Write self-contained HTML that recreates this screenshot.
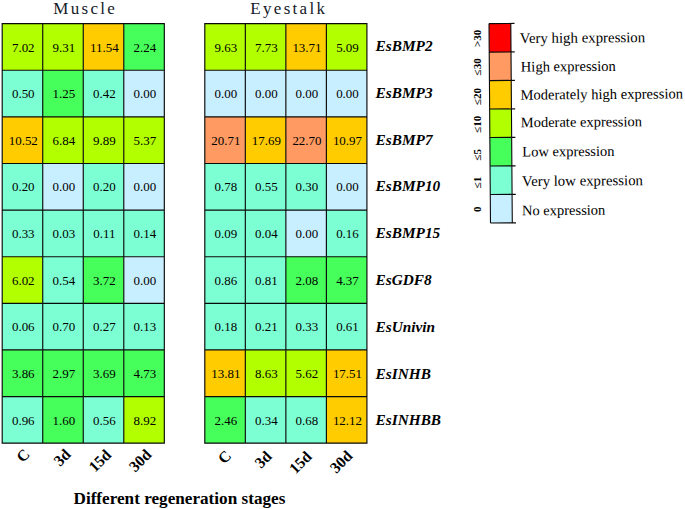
<!DOCTYPE html><html><head><meta charset="utf-8"><title>Heatmap</title>
<style>html,body{margin:0;padding:0;background:#fff;}svg{display:block;}text{font-family:"Liberation Serif",serif;fill:#000;}.c{font-size:12.95px;text-anchor:middle;}.t{font-size:17px;text-anchor:middle;fill:#141a28;letter-spacing:2.3px;}.g{font-size:15.3px;font-weight:bold;font-style:italic;}.x{font-size:15.6px;font-weight:bold;text-anchor:end;}.b{font-size:17.16px;font-weight:bold;}.l{font-size:14.65px;}.r{font-size:10.3px;font-weight:bold;text-anchor:middle;}</style></head><body>
<svg width="685" height="509" viewBox="0 0 685 509">
<rect width="685" height="509" fill="#fff"/>
<rect x="2.2" y="23.6" width="40.53" height="46.62" fill="#b2ff00"/>
<rect x="42.73" y="23.6" width="40.53" height="46.62" fill="#b2ff00"/>
<rect x="83.26" y="23.6" width="40.53" height="46.62" fill="#ffcc00"/>
<rect x="123.79" y="23.6" width="40.53" height="46.62" fill="#46ff5a"/>
<rect x="2.2" y="70.22" width="40.53" height="46.62" fill="#7dffd4"/>
<rect x="42.73" y="70.22" width="40.53" height="46.62" fill="#46ff5a"/>
<rect x="83.26" y="70.22" width="40.53" height="46.62" fill="#7dffd4"/>
<rect x="123.79" y="70.22" width="40.53" height="46.62" fill="#c8efff"/>
<rect x="2.2" y="116.84" width="40.53" height="46.62" fill="#ffcc00"/>
<rect x="42.73" y="116.84" width="40.53" height="46.62" fill="#b2ff00"/>
<rect x="83.26" y="116.84" width="40.53" height="46.62" fill="#b2ff00"/>
<rect x="123.79" y="116.84" width="40.53" height="46.62" fill="#b2ff00"/>
<rect x="2.2" y="163.46" width="40.53" height="46.62" fill="#7dffd4"/>
<rect x="42.73" y="163.46" width="40.53" height="46.62" fill="#c8efff"/>
<rect x="83.26" y="163.46" width="40.53" height="46.62" fill="#7dffd4"/>
<rect x="123.79" y="163.46" width="40.53" height="46.62" fill="#c8efff"/>
<rect x="2.2" y="210.08" width="40.53" height="46.62" fill="#7dffd4"/>
<rect x="42.73" y="210.08" width="40.53" height="46.62" fill="#7dffd4"/>
<rect x="83.26" y="210.08" width="40.53" height="46.62" fill="#7dffd4"/>
<rect x="123.79" y="210.08" width="40.53" height="46.62" fill="#7dffd4"/>
<rect x="2.2" y="256.7" width="40.53" height="46.62" fill="#b2ff00"/>
<rect x="42.73" y="256.7" width="40.53" height="46.62" fill="#7dffd4"/>
<rect x="83.26" y="256.7" width="40.53" height="46.62" fill="#46ff5a"/>
<rect x="123.79" y="256.7" width="40.53" height="46.62" fill="#c8efff"/>
<rect x="2.2" y="303.32" width="40.53" height="46.62" fill="#7dffd4"/>
<rect x="42.73" y="303.32" width="40.53" height="46.62" fill="#7dffd4"/>
<rect x="83.26" y="303.32" width="40.53" height="46.62" fill="#7dffd4"/>
<rect x="123.79" y="303.32" width="40.53" height="46.62" fill="#7dffd4"/>
<rect x="2.2" y="349.94" width="40.53" height="46.62" fill="#46ff5a"/>
<rect x="42.73" y="349.94" width="40.53" height="46.62" fill="#46ff5a"/>
<rect x="83.26" y="349.94" width="40.53" height="46.62" fill="#46ff5a"/>
<rect x="123.79" y="349.94" width="40.53" height="46.62" fill="#46ff5a"/>
<rect x="2.2" y="396.56" width="40.53" height="46.62" fill="#7dffd4"/>
<rect x="42.73" y="396.56" width="40.53" height="46.62" fill="#46ff5a"/>
<rect x="83.26" y="396.56" width="40.53" height="46.62" fill="#7dffd4"/>
<rect x="123.79" y="396.56" width="40.53" height="46.62" fill="#b2ff00"/>
<path d="M2.2 23.6V443.18M42.73 23.6V443.18M83.26 23.6V443.18M123.79 23.6V443.18M164.32 23.6V443.18M2.2 23.6H164.32M2.2 70.22H164.32M2.2 116.84H164.32M2.2 163.46H164.32M2.2 210.08H164.32M2.2 256.7H164.32M2.2 303.32H164.32M2.2 349.94H164.32M2.2 396.56H164.32M2.2 443.18H164.32" stroke="#0a0a0a" stroke-width="1.15" fill="none" stroke-linecap="square"/>
<text class="c" x="23.27" y="51.61">7.02</text>
<text class="c" x="63.8" y="51.61">9.31</text>
<text class="c" x="104.33" y="51.61">11.54</text>
<text class="c" x="144.86" y="51.61">2.24</text>
<text class="c" x="23.27" y="98.23">0.50</text>
<text class="c" x="63.8" y="98.23">1.25</text>
<text class="c" x="104.33" y="98.23">0.42</text>
<text class="c" x="144.86" y="98.23">0.00</text>
<text class="c" x="23.27" y="144.85">10.52</text>
<text class="c" x="63.8" y="144.85">6.84</text>
<text class="c" x="104.33" y="144.85">9.89</text>
<text class="c" x="144.86" y="144.85">5.37</text>
<text class="c" x="23.27" y="191.47">0.20</text>
<text class="c" x="63.8" y="191.47">0.00</text>
<text class="c" x="104.33" y="191.47">0.20</text>
<text class="c" x="144.86" y="191.47">0.00</text>
<text class="c" x="23.27" y="238.09">0.33</text>
<text class="c" x="63.8" y="238.09">0.03</text>
<text class="c" x="104.33" y="238.09">0.11</text>
<text class="c" x="144.86" y="238.09">0.14</text>
<text class="c" x="23.27" y="284.71">6.02</text>
<text class="c" x="63.8" y="284.71">0.54</text>
<text class="c" x="104.33" y="284.71">3.72</text>
<text class="c" x="144.86" y="284.71">0.00</text>
<text class="c" x="23.27" y="331.33">0.06</text>
<text class="c" x="63.8" y="331.33">0.70</text>
<text class="c" x="104.33" y="331.33">0.27</text>
<text class="c" x="144.86" y="331.33">0.13</text>
<text class="c" x="23.27" y="377.95">3.86</text>
<text class="c" x="63.8" y="377.95">2.97</text>
<text class="c" x="104.33" y="377.95">3.69</text>
<text class="c" x="144.86" y="377.95">4.73</text>
<text class="c" x="23.27" y="424.57">0.96</text>
<text class="c" x="63.8" y="424.57">1.60</text>
<text class="c" x="104.33" y="424.57">0.56</text>
<text class="c" x="144.86" y="424.57">8.92</text>
<text class="x" transform="translate(24.35 449) rotate(-45)" x="0" y="0" dy="9">C</text>
<text class="x" transform="translate(65.2 448.9) rotate(-45)" x="0" y="0" dy="9">3d</text>
<text class="x" transform="translate(105.7 449.4) rotate(-45)" x="0" y="0" dy="9">15d</text>
<text class="x" transform="translate(145.95 449.2) rotate(-45)" x="0" y="0" dy="9">30d</text>
<rect x="204.8" y="23.6" width="40.53" height="46.62" fill="#b2ff00"/>
<rect x="245.33" y="23.6" width="40.53" height="46.62" fill="#b2ff00"/>
<rect x="285.86" y="23.6" width="40.53" height="46.62" fill="#ffcc00"/>
<rect x="326.39" y="23.6" width="40.53" height="46.62" fill="#b2ff00"/>
<rect x="204.8" y="70.22" width="40.53" height="46.62" fill="#c8efff"/>
<rect x="245.33" y="70.22" width="40.53" height="46.62" fill="#c8efff"/>
<rect x="285.86" y="70.22" width="40.53" height="46.62" fill="#c8efff"/>
<rect x="326.39" y="70.22" width="40.53" height="46.62" fill="#c8efff"/>
<rect x="204.8" y="116.84" width="40.53" height="46.62" fill="#ff9a62"/>
<rect x="245.33" y="116.84" width="40.53" height="46.62" fill="#ffcc00"/>
<rect x="285.86" y="116.84" width="40.53" height="46.62" fill="#ff9a62"/>
<rect x="326.39" y="116.84" width="40.53" height="46.62" fill="#ffcc00"/>
<rect x="204.8" y="163.46" width="40.53" height="46.62" fill="#7dffd4"/>
<rect x="245.33" y="163.46" width="40.53" height="46.62" fill="#7dffd4"/>
<rect x="285.86" y="163.46" width="40.53" height="46.62" fill="#7dffd4"/>
<rect x="326.39" y="163.46" width="40.53" height="46.62" fill="#c8efff"/>
<rect x="204.8" y="210.08" width="40.53" height="46.62" fill="#7dffd4"/>
<rect x="245.33" y="210.08" width="40.53" height="46.62" fill="#7dffd4"/>
<rect x="285.86" y="210.08" width="40.53" height="46.62" fill="#c8efff"/>
<rect x="326.39" y="210.08" width="40.53" height="46.62" fill="#7dffd4"/>
<rect x="204.8" y="256.7" width="40.53" height="46.62" fill="#7dffd4"/>
<rect x="245.33" y="256.7" width="40.53" height="46.62" fill="#7dffd4"/>
<rect x="285.86" y="256.7" width="40.53" height="46.62" fill="#46ff5a"/>
<rect x="326.39" y="256.7" width="40.53" height="46.62" fill="#46ff5a"/>
<rect x="204.8" y="303.32" width="40.53" height="46.62" fill="#7dffd4"/>
<rect x="245.33" y="303.32" width="40.53" height="46.62" fill="#7dffd4"/>
<rect x="285.86" y="303.32" width="40.53" height="46.62" fill="#7dffd4"/>
<rect x="326.39" y="303.32" width="40.53" height="46.62" fill="#7dffd4"/>
<rect x="204.8" y="349.94" width="40.53" height="46.62" fill="#ffcc00"/>
<rect x="245.33" y="349.94" width="40.53" height="46.62" fill="#b2ff00"/>
<rect x="285.86" y="349.94" width="40.53" height="46.62" fill="#b2ff00"/>
<rect x="326.39" y="349.94" width="40.53" height="46.62" fill="#ffcc00"/>
<rect x="204.8" y="396.56" width="40.53" height="46.62" fill="#46ff5a"/>
<rect x="245.33" y="396.56" width="40.53" height="46.62" fill="#7dffd4"/>
<rect x="285.86" y="396.56" width="40.53" height="46.62" fill="#7dffd4"/>
<rect x="326.39" y="396.56" width="40.53" height="46.62" fill="#ffcc00"/>
<path d="M204.8 23.6V443.18M245.33 23.6V443.18M285.86 23.6V443.18M326.39 23.6V443.18M366.92 23.6V443.18M204.8 23.6H366.92M204.8 70.22H366.92M204.8 116.84H366.92M204.8 163.46H366.92M204.8 210.08H366.92M204.8 256.7H366.92M204.8 303.32H366.92M204.8 349.94H366.92M204.8 396.56H366.92M204.8 443.18H366.92" stroke="#0a0a0a" stroke-width="1.15" fill="none" stroke-linecap="square"/>
<text class="c" x="225.87" y="51.61">9.63</text>
<text class="c" x="266.4" y="51.61">7.73</text>
<text class="c" x="306.93" y="51.61">13.71</text>
<text class="c" x="347.46" y="51.61">5.09</text>
<text class="c" x="225.87" y="98.23">0.00</text>
<text class="c" x="266.4" y="98.23">0.00</text>
<text class="c" x="306.93" y="98.23">0.00</text>
<text class="c" x="347.46" y="98.23">0.00</text>
<text class="c" x="225.87" y="144.85">20.71</text>
<text class="c" x="266.4" y="144.85">17.69</text>
<text class="c" x="306.93" y="144.85">22.70</text>
<text class="c" x="347.46" y="144.85">10.97</text>
<text class="c" x="225.87" y="191.47">0.78</text>
<text class="c" x="266.4" y="191.47">0.55</text>
<text class="c" x="306.93" y="191.47">0.30</text>
<text class="c" x="347.46" y="191.47">0.00</text>
<text class="c" x="225.87" y="238.09">0.09</text>
<text class="c" x="266.4" y="238.09">0.04</text>
<text class="c" x="306.93" y="238.09">0.00</text>
<text class="c" x="347.46" y="238.09">0.16</text>
<text class="c" x="225.87" y="284.71">0.86</text>
<text class="c" x="266.4" y="284.71">0.81</text>
<text class="c" x="306.93" y="284.71">2.08</text>
<text class="c" x="347.46" y="284.71">4.37</text>
<text class="c" x="225.87" y="331.33">0.18</text>
<text class="c" x="266.4" y="331.33">0.21</text>
<text class="c" x="306.93" y="331.33">0.33</text>
<text class="c" x="347.46" y="331.33">0.61</text>
<text class="c" x="225.87" y="377.95">13.81</text>
<text class="c" x="266.4" y="377.95">8.63</text>
<text class="c" x="306.93" y="377.95">5.62</text>
<text class="c" x="347.46" y="377.95">17.51</text>
<text class="c" x="225.87" y="424.57">2.46</text>
<text class="c" x="266.4" y="424.57">0.34</text>
<text class="c" x="306.93" y="424.57">0.68</text>
<text class="c" x="347.46" y="424.57">12.12</text>
<text class="x" transform="translate(225.75 450.3) rotate(-45)" x="0" y="0" dy="9">C</text>
<text class="x" transform="translate(266.4 451) rotate(-45)" x="0" y="0" dy="9">3d</text>
<text class="x" transform="translate(306.35 451.2) rotate(-45)" x="0" y="0" dy="9">15d</text>
<text class="x" transform="translate(347.05 450.5) rotate(-45)" x="0" y="0" dy="9">30d</text>
<text class="t" x="85.3" y="13.7">Muscle</text>
<text class="t" x="288.8" y="13.7">Eyestalk</text>
<text class="g" x="375.6" y="50.9">EsBMP2</text>
<text class="g" x="375.6" y="97.7">EsBMP3</text>
<text class="g" x="375.6" y="144.5">EsBMP7</text>
<text class="g" x="375.6" y="191.3">EsBMP10</text>
<text class="g" x="375.6" y="238.1">EsBMP15</text>
<text class="g" x="375.6" y="284.9">EsGDF8</text>
<text class="g" x="375.6" y="331.7">EsUnivin</text>
<text class="g" x="375.6" y="378.5">EsINHB</text>
<text class="g" x="375.6" y="425.3">EsINHBB</text>
<text class="b" x="73.5" y="503.5">Different regeneration stages</text>
<g transform="rotate(-0.43 489 23.6)">
<rect x="489" y="23.6" width="21.8" height="28.49" fill="#ff0000"/>
<rect x="489" y="52.09" width="21.8" height="28.49" fill="#ff9a62"/>
<rect x="489" y="80.58" width="21.8" height="28.49" fill="#ffcc00"/>
<rect x="489" y="109.07" width="21.8" height="28.49" fill="#b2ff00"/>
<rect x="489" y="137.56" width="21.8" height="28.49" fill="#46ff5a"/>
<rect x="489" y="166.05" width="21.8" height="28.49" fill="#7dffd4"/>
<rect x="489" y="194.54" width="21.8" height="28.49" fill="#c8efff"/>
<path d="M489 23.6V223.03M510.8 23.6V223.03M489 23.6H514.5M489 52.09H514.5M489 80.58H514.5M489 109.07H514.5M489 137.56H514.5M489 166.05H514.5M489 194.54H514.5M489 223.03H514.5" stroke="#0a0a0a" stroke-width="1.1" fill="none"/>
<text class="l" style="font-size:14.85px" x="519.7" y="43.3">Very high expression</text>
<text class="l" style="font-size:14.55px" x="520.5" y="71.8">High expression</text>
<text class="l" style="font-size:14.55px" x="520" y="99.9">Moderately high expression</text>
<text class="l" style="font-size:14.5px" x="520" y="127.4">Moderate expression</text>
<text class="l" style="font-size:14.5px" x="521.3" y="156.8">Low expression</text>
<text class="l" style="font-size:14.8px" x="520.9" y="186.3">Very low expression</text>
<text class="l" style="font-size:14.5px" x="520.5" y="215.6">No expression</text>
</g>
<text class="r" transform="translate(481.1 38.42) rotate(-90) scale(1.07 1)">&gt;30</text>
<text class="r" transform="translate(481.1 66.86) rotate(-90) scale(1.07 1)">≤30</text>
<text class="r" transform="translate(481.1 96.55) rotate(-90) scale(1.07 1)">≤20</text>
<text class="r" transform="translate(481.1 124.24) rotate(-90) scale(1.07 1)">≤10</text>
<text class="r" transform="translate(481.1 154.68) rotate(-90) scale(1.07 1)">≤5</text>
<text class="r" transform="translate(481.1 182.52) rotate(-90) scale(1.07 1)">≤1</text>
<text class="r" transform="translate(481.1 209.36) rotate(-90) scale(1.07 1)">0</text>
</svg></body></html>
